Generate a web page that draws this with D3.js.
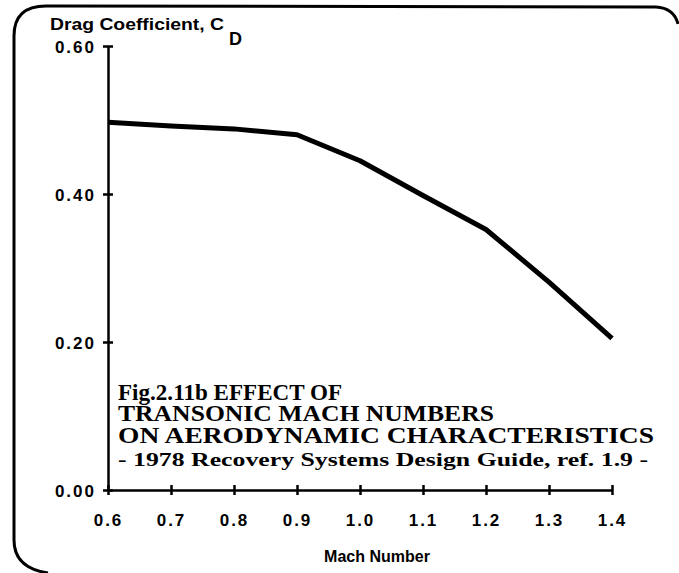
<!DOCTYPE html>
<html>
<head>
<meta charset="utf-8">
<script src="https://cdn.jsdelivr.net/npm/d3@7"></script>
<style>
  body { margin: 0; background: #fff; }
  svg { display: block; }
  .tick text { font-family: "Liberation Sans", Arial, sans-serif; font-weight: bold; }
</style>
</head>
<body>
<svg width="679" height="573"></svg>
<script>
// data
const machNumbers = [0.6, 0.7, 0.8, 0.9, 1.0, 1.1, 1.2, 1.3, 1.4];
const dragCoeffs  = [0.497, 0.492, 0.488, 0.48, 0.445, 0.398, 0.352, 0.281, 0.205];
const xTicks = [0.6, 0.7, 0.8, 0.9, 1.0, 1.1, 1.2, 1.3, 1.4];
const yTicks = [0.0, 0.2, 0.4, 0.6];
const captionLines = [
  'Fig.2.11b EFFECT OF',
  'TRANSONIC MACH NUMBERS',
  'ON AERODYNAMIC CHARACTERISTICS',
  '- 1978 Recovery Systems Design Guide, ref. 1.9 -'
];

const svg = d3.select('svg');
const x = d3.scaleLinear().domain([0.6, 1.4]).range([108, 612]);
const y = d3.scaleLinear().domain([0, 0.6]).range([490, 46]);

// rounded frame (open at the lower right, as in the scan)
svg.append('path')
  .attr('d', 'M 48 573 Q 14 568 14 540 L 14 36 Q 14 6 46 6 L 656 7 Q 674 8 678 24')
  .attr('fill', 'none').attr('stroke', '#000').attr('stroke-width', 3);

// axes
const xAxisG = svg.append('g').attr('transform', `translate(0,${y(0)})`)
  .call(d3.axisBottom(x).tickValues(xTicks).tickFormat(d3.format('.1f')).tickSizeOuter(0));
const yAxisG = svg.append('g').attr('transform', `translate(${x(0.6)},0)`)
  .call(d3.axisLeft(y).tickValues(yTicks).tickFormat(d3.format('.2f')).tickSizeOuter(0));

[xAxisG, yAxisG].forEach(g => {
  g.select('.domain').attr('stroke', '#000').attr('stroke-width', 2.5);
  g.selectAll('.tick line').attr('stroke', '#000').attr('stroke-width', 2.5);
  g.selectAll('.tick text').attr('fill', '#000').attr('font-size', 17).attr('letter-spacing', 2);
});
xAxisG.selectAll('.tick line').attr('y1', -5).attr('y2', 5);
xAxisG.selectAll('.tick text').attr('y', 24).attr('dy', '0.71em');
yAxisG.selectAll('.tick line').attr('x1', -5).attr('x2', 5);
yAxisG.selectAll('.tick text').attr('x', -12).attr('dy', '0.36em');

// curve
const line = d3.line().x(d => x(d[0])).y(d => y(d[1]));
svg.append('path')
  .datum(d3.zip(machNumbers, dragCoeffs))
  .attr('d', line)
  .attr('fill', 'none').attr('stroke', '#000').attr('stroke-width', 5)
  .attr('stroke-linejoin', 'round');

// axis titles
svg.append('text')
  .attr('x', 50).attr('y', 30)
  .attr('font-family', '"Liberation Sans", Arial, sans-serif')
  .attr('font-weight', 'bold').attr('font-size', 16)
  .attr('textLength', 174).attr('lengthAdjust', 'spacingAndGlyphs')
  .text('Drag Coefficient, C');
svg.append('text').attr('x', 229).attr('y', 45)
  .attr('font-family', '"Liberation Sans", Arial, sans-serif')
  .attr('font-weight', 'bold').attr('font-size', 18).text('D');

svg.append('text')
  .attr('x', 377).attr('y', 562).attr('text-anchor', 'middle')
  .attr('font-family', '"Liberation Sans", Arial, sans-serif')
  .attr('font-weight', 'bold').attr('font-size', 16)
  .text('Mach Number');

// caption
const captionWidths = [224, 376, 536, 530];
const captionSizes = [23, 23, 23, 18];
const captionBase = [400, 421, 443, 466];
svg.append('g').selectAll('text').data(captionLines).join('text')
  .attr('x', 118)
  .attr('y', (d, i) => captionBase[i])
  .attr('font-family', '"Liberation Serif", "Times New Roman", serif')
  .attr('font-weight', 'bold')
  .attr('font-size', (d, i) => captionSizes[i])
  .attr('textLength', (d, i) => captionWidths[i])
  .attr('lengthAdjust', 'spacingAndGlyphs')
  .text(d => d);
</script>
</body>
</html>
